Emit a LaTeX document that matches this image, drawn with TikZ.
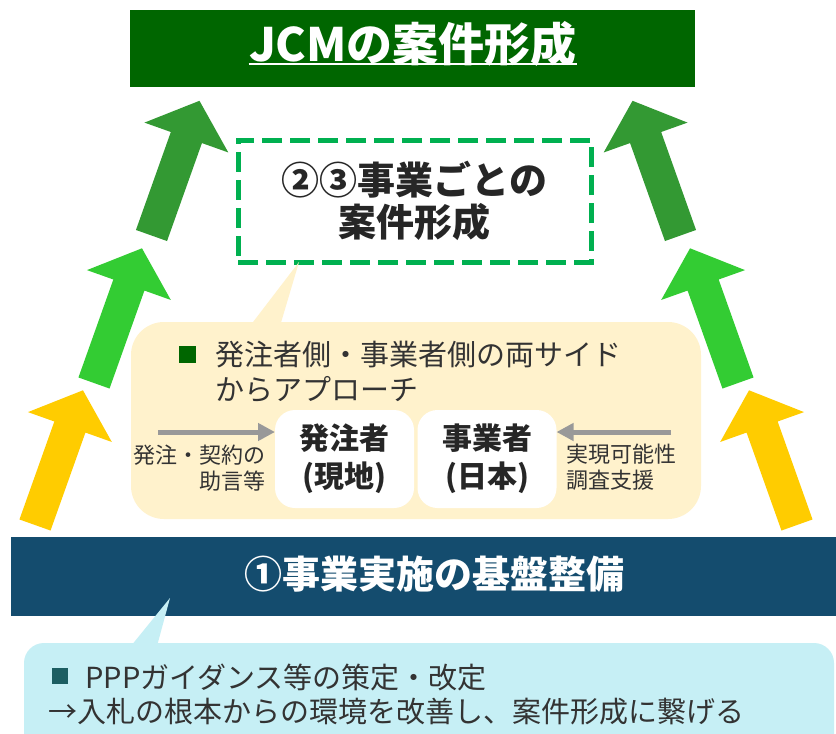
\documentclass[tikz,border=0pt]{standalone}
\usepackage{fontspec}
\setmainfont{Noto Sans CJK JP}
\usetikzlibrary{arrows.meta}
\definecolor{topgreen}{HTML}{006600}
\definecolor{arrY}{HTML}{FFCC00}
\definecolor{arrLG}{HTML}{33CC33}
\definecolor{arrMG}{HTML}{339933}
\definecolor{dashgreen}{HTML}{00B050}
\definecolor{beige}{HTML}{FFF2CC}
\definecolor{cyanbg}{HTML}{C6EFF5}
\definecolor{bluebox}{HTML}{144C6E}
\definecolor{txtdark}{HTML}{262626}
\definecolor{txtgray}{HTML}{333333}
\definecolor{arrgray}{HTML}{999999}
\definecolor{tealsq}{HTML}{1C5E62}
\newcommand\fsz[2]{\fontsize{#1}{#2}\selectfont}
\begin{document}
\begin{tikzpicture}[x=0.5pt,y=-0.5pt,
  pics/bigarrow/.style={code={\fill[#1] (0,-16.5) -- (104,-16.5) -- (104,-44.5) -- (143,0) -- (104,44.5) -- (104,16.5) -- (0,16.5) -- cycle;}},
  boxnode/.style={inner sep=0pt, outer sep=0pt},
  whitebox/.style={boxnode, fill=white, rounded corners=10pt, minimum width=69.5pt, minimum height=49pt},
  whitetxt/.style={text=txtdark, font=\bfseries\fsz{15pt}{19pt}, align=center},
  grayarrow/.style={draw=arrgray, line width=2.5pt, -{Triangle[length=8.5pt,width=8.5pt]}},
  smalllabel/.style={inner sep=0pt, text=txtgray, font=\fsz{11pt}{13pt}},
  bodytxt/.style={inner sep=0pt, text=txtgray, font=\fsz{14.5pt}{17.5pt}}
]
\useasboundingbox[fill=white] (0,0) rectangle (836,734);

% big arrows, left side
\pic[rotate=70.4] at (35,525) {bigarrow=arrY};
\pic[rotate=70.4] at (94,383) {bigarrow=arrLG};
\pic[rotate=70.4] at (151.5,235.5) {bigarrow=arrMG};
% big arrows, right side
\pic[rotate=109.6] at (797,525) {bigarrow=arrY};
\pic[rotate=109.6] at (738,383) {bigarrow=arrLG};
\pic[rotate=109.6] at (680.5,235.5) {bigarrow=arrMG};

% top box
\node[boxnode, fill=topgreen, minimum width=282.5pt, minimum height=38.5pt] (top) at (412.5,48.5) {};
\node[inner sep=0pt, anchor=base, text=white, font=\bfseries\fsz{23pt}{27pt}] (title) at (413,61) {JCMの案件形成};
\draw[white, line width=1.2pt] ([yshift=-1.6pt]title.base west) -- ([yshift=-1.6pt]title.base east);

% dashed box
\node[boxnode, draw=dashgreen, line width=2.5pt, dash pattern=on 10pt off 4pt,
      minimum width=176.5pt, minimum height=61pt, text=txtdark,
      font=\bfseries\fsz{19pt}{21pt}, align=center] (dbox) at (414.5,201) {②③事業ごとの\\案件形成};

% beige callout
\node[boxnode, fill=beige, rounded corners=16.5pt, minimum width=285pt, minimum height=98.5pt] (bg) at (416,420.5) {};
\fill[beige] (250,326) -- (280,326) -- (dbox.south -| 299,0) -- cycle;
\fill[topgreen] (179,346) rectangle (196,363);
\node[bodytxt, anchor=west, align=left] (bgtxt) at (215,372) {発注者側・事業者側の両サイド\\からアプローチ};

\node[whitebox] (lb) at (344.5,459) {};
\node[whitetxt] (lbt) at (lb) {発注者\\(現地)};
\node[whitebox] (rb) at (487,459) {};
\node[whitetxt] (rbt) at (rb) {事業者\\(日本)};

\coordinate (ga1) at (158,432);
\coordinate (ga2) at (671,432);
\draw[grayarrow] (ga1) -- (ga1 -| lb.west);
\draw[grayarrow] (ga2) -- (ga2 -| rb.east);

\node[smalllabel, anchor=east, align=right] (lab1) at (266,468) {発注・契約の\\助言等};
\node[smalllabel, anchor=west, align=left] (lab2) at (566,467) {実現可能性\\調査支援};

% blue base box
\node[boxnode, fill=bluebox, minimum width=412.5pt, minimum height=39.5pt] (base) at (423.5,576.5) {};
\node[inner sep=0pt, text=white, font=\bfseries\fsz{19pt}{23pt}] (basetxt) at (434,574) {①事業実施の基盤整備};

% cyan callout
\begin{scope}
\clip (0,0) rectangle (836,734);
\fill[cyanbg, rounded corners=10pt] (24,643) rectangle (834,790);
\end{scope}
\fill[cyanbg] (131,646) -- (157,646) -- (170,598) -- cycle;
\fill[tealsq] (52,668) rectangle (68,684);
\node[bodytxt, anchor=west] (info1) at (85,677) {PPPガイダンス等の策定・改定};
\node[bodytxt, anchor=west] (info2) at (48,712) {→入札の根本からの環境を改善し、案件形成に繋げる};
\end{tikzpicture}
\end{document}
